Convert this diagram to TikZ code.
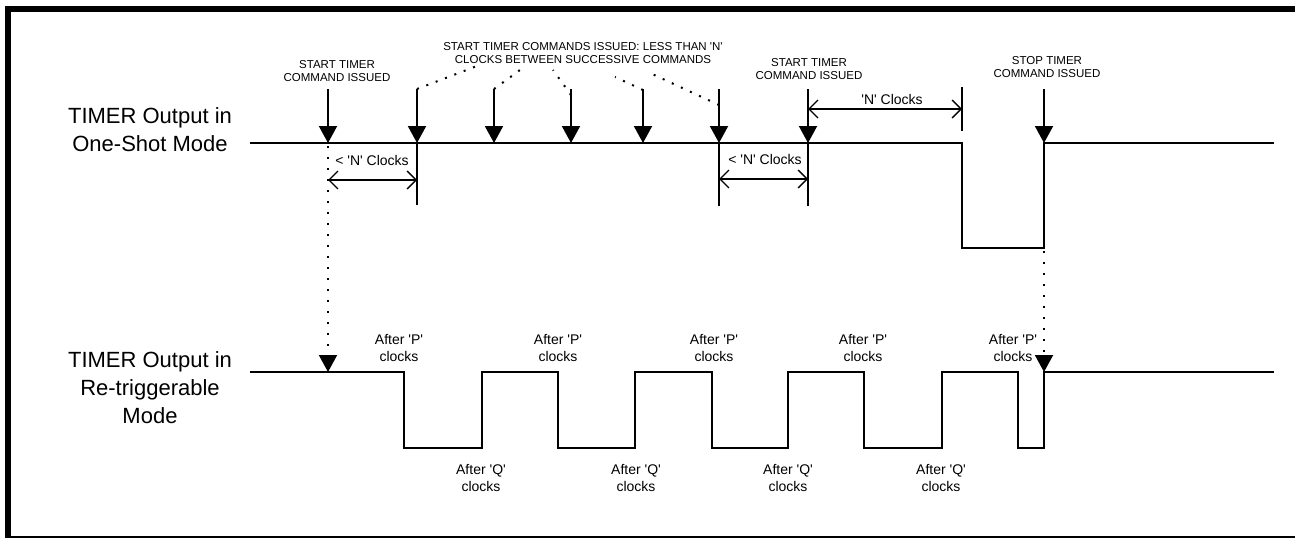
\documentclass[tikz,border=0pt]{standalone}
\usepackage{fontspec}
\setmainfont{Liberation Sans}
\usetikzlibrary{arrows.meta,positioning}
\newcommand{\tq}{\textquotesingle}
\tikzset{%
	wave/.style      = {line width=2pt, line join=miter},
	cmdarrow/.style  = {line width=2pt, -{Triangle[length=17pt,width=18pt]}},
	dotarrow/.style  = {line width=2pt, dash pattern=on 2pt off 9pt, -{Triangle[length=17pt,width=18pt]}},
	dotline/.style   = {line width=2pt, dash pattern=on 2pt off 8pt},
	dimline/.style   = {line width=1.3pt, {Straight Barb[length=9pt,width=18pt]}-{Straight Barb[length=9pt,width=18pt]}},
	tickline/.style  = {line width=1.5pt},
	modelabel/.style = {font=\fontsize{22}{28}\selectfont, align=center, inner sep=0pt},
	cmdlabel/.style  = {font=\fontsize{11.5}{13.5}\selectfont, align=center, inner sep=0pt},
	clklabel/.style  = {font=\fontsize{14}{17.5}\selectfont, align=center, inner sep=0pt},
}

\begin{document}
\begin{tikzpicture}[x=1pt,y=-1pt]
	\useasboundingbox (0,0) rectangle (1295,538);
	\draw[line width=6pt] (8,536) -- (8,9) -- (1295,9);  % frame
	\draw[line width=2pt] (5,537) -- (1295,537);
	
	\node[modelabel] (oneshot) at (150,130) {TIMER Output in\\One-Shot Mode};
	\node[modelabel] (retrig) at (150,388) {TIMER Output in\\Re-triggerable\\Mode};
	
	% one-shot output
	\draw[wave] (250,143) -- (962,143) -- (962,248) -- (1044,248) -- (1044,143) -- (1274,143);
	% re-triggerable output
	\draw[wave] (250,372) -- (404,372) -- (404,448) -- (482,448) -- (482,372) -- (558,372) -- (558,448)
		-- (635,448) -- (635,372) -- (712,372) -- (712,448) -- (788,448) -- (788,372) -- (864,372)
		-- (864,448) -- (942,448) -- (942,372) -- (1018,372) -- (1018,448) -- (1044,448) -- (1044,372) -- (1274,372);
	
	% commands
	\coordinate (cmd1) at (328,143);
	\coordinate (cmd2) at (417,143);
	\coordinate (cmd3) at (494,143);
	\coordinate (cmd4) at (571,143);
	\coordinate (cmd5) at (643,143);
	\coordinate (cmd6) at (719,143);
	\coordinate (cmd7) at (808,143);
	\coordinate (stop) at (1044,143);
	\coordinate[above=54pt of cmd1] (top1);
	\coordinate[above=54pt of cmd2] (top2);
	\coordinate[above=54pt of cmd3] (top3);
	\coordinate[above=54pt of cmd4] (top4);
	\coordinate[above=54pt of cmd5] (top5);
	\coordinate[above=54pt of cmd6] (top6);
	\coordinate[above=54pt of cmd7] (top7);
	\coordinate[above=54pt of stop] (topstop);
	\draw[cmdarrow] (top1) -- (cmd1);
	\draw[cmdarrow] (top2) -- (cmd2);
	\draw[cmdarrow] (top3) -- (cmd3);
	\draw[cmdarrow] (top4) -- (cmd4);
	\draw[cmdarrow] (top5) -- (cmd5);
	\draw[cmdarrow] (top6) -- (cmd6);
	\draw[cmdarrow] (top7) -- (cmd7);
	\draw[cmdarrow] (topstop) -- (stop);
	
	\node[cmdlabel] (start1) at (337,71) {START TIMER\\COMMAND ISSUED};
	\node[cmdlabel] (starts) at (583,53) {START TIMER COMMANDS ISSUED: LESS THAN \tq N\tq\\CLOCKS BETWEEN SUCCESSIVE COMMANDS};
	\node[cmdlabel] (start2) at (809,69) {START TIMER\\COMMAND ISSUED};
	\node[cmdlabel] (stopcmd) at (1047,67) {STOP TIMER\\COMMAND ISSUED};
	
	% dotted pointers to the successive commands
	\coordinate (p2) at (477,66);
	\coordinate (p3) at (520,70);
	\coordinate (p4) at (553,70);
	\coordinate (p5) at (615,77);
	\coordinate (p6) at (650,73);
	\draw[dotline] (top2) -- (p2);
	\draw[dotline] (top3) -- (p3);
	\draw[dotline] ([yshift=-6pt]top4) -- (p4);
	\draw[dotline] ([yshift=-1pt]top5) -- (p5);
	\draw[dotline] ([yshift=-16pt]top6) -- (p6);
	
	% < 'N' clocks
	\coordinate[below=37pt of cmd1] (dim1);
	\coordinate[below=62pt of cmd2] (tick2);
	\draw[tickline] (cmd2) -- (tick2);
	\draw[dimline] (dim1) -- (dim1 -| cmd2);
	\node[clklabel] (lessn1) at (372,160) {< \tq N\tq{} Clocks};
	\coordinate[below=36pt of cmd6] (dim2);
	\coordinate[below=63pt of cmd6] (tick6);
	\coordinate[below=63pt of cmd7] (tick7);
	\draw[tickline] (cmd6) -- (tick6);
	\draw[tickline] (cmd7) -- (tick7);
	\draw[dimline] (dim2) -- (dim2 -| cmd7);
	\node[clklabel] (lessn2) at (765,159) {< \tq N\tq{} Clocks};
	
	% 'N' clocks
	\coordinate (nend) at (962,109);
	\draw[tickline] (962,87) -- (962,131);
	\draw[dimline] (nend -| cmd7) -- (nend);
	\node[clklabel] (nclk) at (892,99) {\tq N\tq{} Clocks};
	
	% dotted links to the re-triggerable output
	\coordinate (rt1) at (328,372);
	\coordinate (low) at (1044,248);
	\coordinate (rt2) at (1044,372);
	\draw[dotarrow] ([yshift=8pt]cmd1) -- (rt1);
	\draw[dotarrow] ([yshift=8pt]low) -- (rt2);
	
	\node[clklabel] (aftp1) at (399,348) {After \tq P\tq\\clocks};
	\node[clklabel] (aftp2) at (558,348) {After \tq P\tq\\clocks};
	\node[clklabel] (aftp3) at (714,348) {After \tq P\tq\\clocks};
	\node[clklabel] (aftp4) at (863,348) {After \tq P\tq\\clocks};
	\node[clklabel] (aftp5) at (1013,348) {After \tq P\tq\\clocks};
	\node[clklabel] (aftq1) at (481,478) {After \tq Q\tq\\clocks};
	\node[clklabel] (aftq2) at (636,478) {After \tq Q\tq\\clocks};
	\node[clklabel] (aftq3) at (788,478) {After \tq Q\tq\\clocks};
	\node[clklabel] (aftq4) at (941,478) {After \tq Q\tq\\clocks};
\end{tikzpicture}
\end{document}
